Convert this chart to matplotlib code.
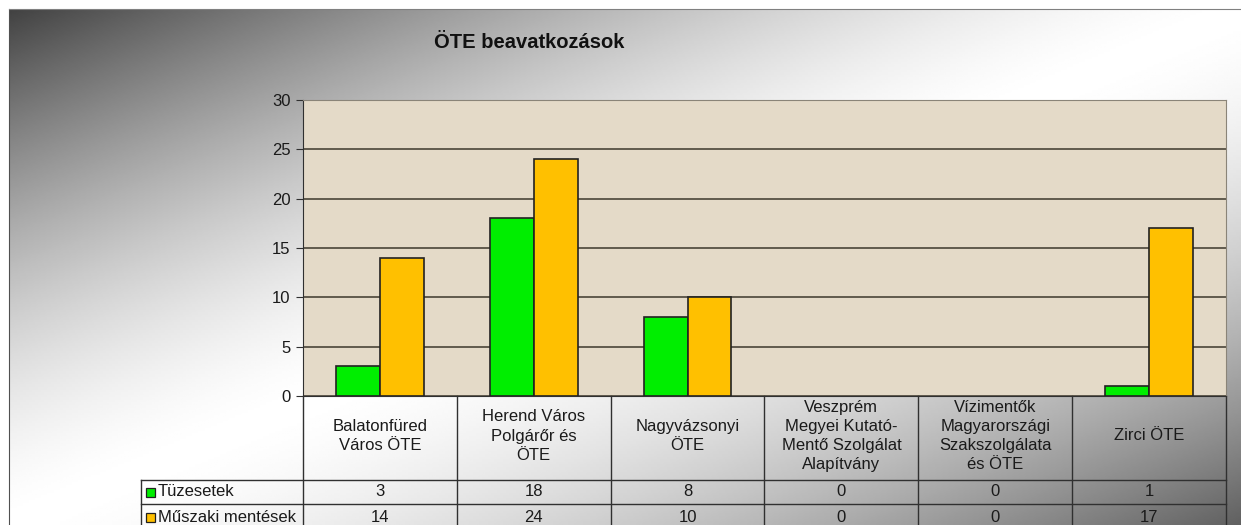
import numpy as np
import matplotlib.pyplot as plt
from matplotlib.patches import Rectangle
from matplotlib.transforms import blended_transform_factory

plt.rcParams['font.family'] = ['Liberation Sans', 'DejaVu Sans']

categories = ['Balatonfüred\nVáros ÖTE', 'Herend Város\nPolgárőr és\nÖTE',
              'Nagyvázsonyi\nÖTE', 'Veszprém\nMegyei Kutató-\nMentő Szolgálat\nAlapítvány',
              'Vízimentők\nMagyarországi\nSzakszolgálata\nés ÖTE', 'Zirci ÖTE']
series_names = ['Tüzesetek', 'Műszaki mentések']
tuzesetek = [3, 18, 8, 0, 0, 1]
muszaki = [14, 24, 10, 0, 0, 17]
colors = ['#00ee00', '#ffc000']

W, H = 1241, 525
fig = plt.figure(figsize=(W / 100, H / 100), dpi=100)
fig.patch.set_facecolor('white')

# background gradient of the chart area
bg = fig.add_axes([9 / W, 0, 1 - 9 / W, (H - 9) / H])
u = np.linspace(0, 1, 400)[None, :]
v = np.linspace(0, 1, 200)[:, None]
t = (u + v) / 2
lvl = np.where(t < 0.5, 1 - 0.74 * (1 - 2 * t) ** 1.5, 1 - 0.62 * (2 * t - 1) ** 1.6)
bg.imshow(lvl, cmap='gray', vmin=0, vmax=1, aspect='auto', extent=[0, 1, 1, 0])
bg.set_xlim(0, 1)
bg.set_ylim(1, 0)
bg.set_xticks([])
bg.set_yticks([])
for side in ['right', 'bottom']:
    bg.spines[side].set_visible(False)
bg.spines['left'].set_color('#505050')
bg.spines['top'].set_color('#808080')

ax = fig.add_axes([303 / W, (H - 396) / H, (1226 - 303) / W, (396 - 100) / H])
ax.set_facecolor('#e4dac8')
x = np.arange(len(categories))
bw = 0.285
for vals, off, col in [(tuzesetek, -bw / 2, colors[0]), (muszaki, bw / 2, colors[1])]:
    lws = [1.2 if val > 0 else 0 for val in vals]
    ax.bar(x + off, vals, bw, color=col, edgecolor='#222222', linewidth=lws, zorder=3)
ax.set_xlim(-0.5, len(categories) - 0.5)
ax.set_ylim(0, 30)
ax.set_yticks(range(0, 31, 5))
ax.yaxis.grid(True, color='#4a4438', linewidth=1.2, zorder=1)
ax.set_axisbelow(True)
ax.set_xticks([])
ax.tick_params(axis='y', labelsize=12, length=5, color='#303030', pad=4, labelcolor='#1a1a1a')
ax.spines['left'].set_color('#303030')
ax.spines['bottom'].set_color('#303030')
ax.spines['top'].set_color('#8a8478')
ax.spines['right'].set_color('#8a8478')

fig.text(529 / W, 1 - 42 / H, 'ÖTE beavatkozások', ha='center', va='center',
         fontsize=14.5, fontweight='bold', color='#111111')

# data table under the axis
tr = blended_transform_factory(ax.transData, ax.transAxes)
ph = 396 - 100
cw = (1226 - 303) / len(categories)


def ya(py):
    return -(py - 396) / ph


def xd(px):
    return -0.5 + (px - 303) / cw


lc = '#303030'
bottom = ya(540)
for i in range(len(categories) + 1):
    ax.plot([i - 0.5, i - 0.5], [0, bottom], transform=tr, color=lc, lw=1, clip_on=False)
ax.plot([xd(141), xd(141)], [ya(480), bottom], transform=tr, color=lc, lw=1, clip_on=False)
for py in [480, 504]:
    ax.plot([xd(141), len(categories) - 0.5], [ya(py), ya(py)], transform=tr,
            color=lc, lw=1, clip_on=False)

for i, c in enumerate(categories):
    ax.text(i, ya(436), c, transform=tr, ha='center', va='center', fontsize=12,
            color='#1a1a1a', linespacing=1.35)
    ax.text(i, ya(492), str(tuzesetek[i]), transform=tr, ha='center', va='center',
            fontsize=12, color='#1a1a1a')
    ax.text(i, ya(517), str(muszaki[i]), transform=tr, ha='center', va='center',
            fontsize=12, color='#1a1a1a')

for name, col, py in zip(series_names, colors, [492, 517]):
    ax.add_patch(Rectangle((xd(146), ya(py + 4.5)), (8.5 / cw), 9 / ph, transform=tr,
                           facecolor=col, edgecolor='#202020', lw=0.9, clip_on=False))
    ax.text(xd(158), ya(py), name, transform=tr, ha='left', va='center', fontsize=12,
            color='#1a1a1a')

fig.savefig('out.png', dpi=100)
